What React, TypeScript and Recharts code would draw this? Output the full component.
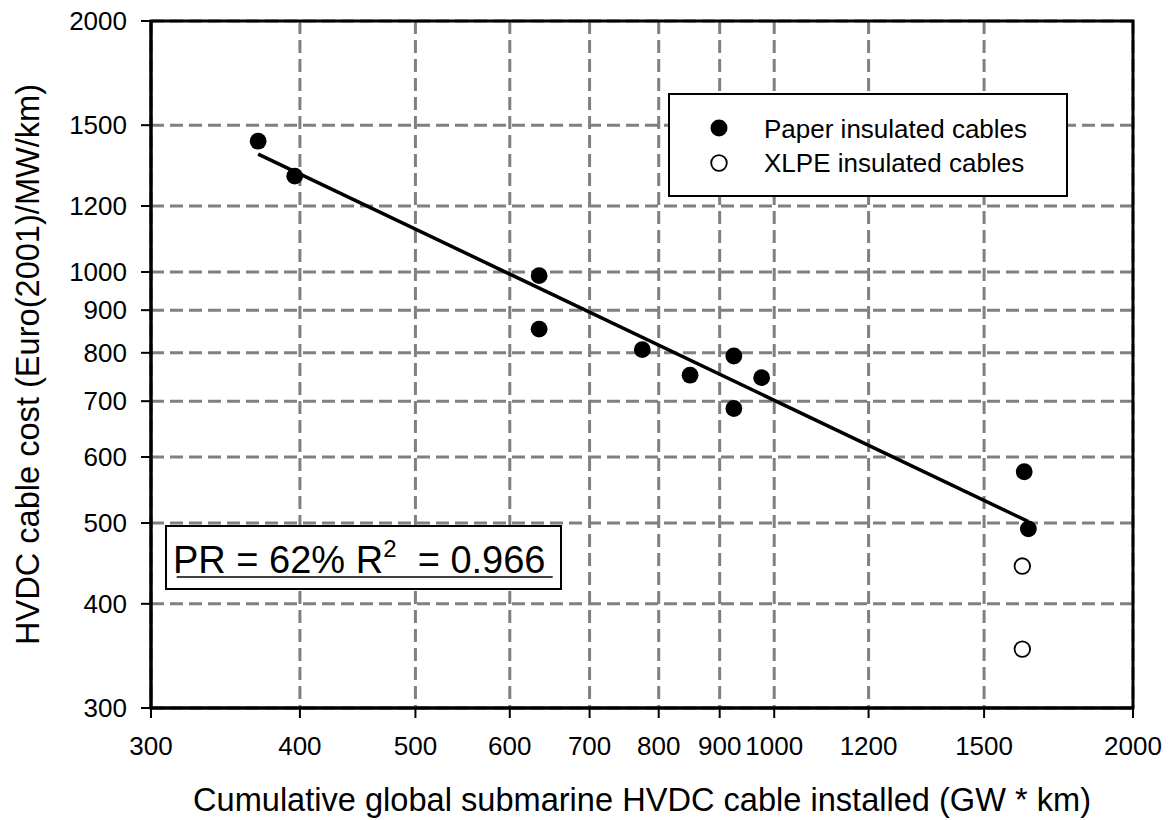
import React from 'react';
import { ScatterChart, Scatter, XAxis, YAxis, CartesianGrid, ReferenceArea, Legend } from 'recharts';

const FONT = '"Liberation Sans", Arial, Helvetica, sans-serif';

const xTicks = [300, 400, 500, 600, 700, 800, 900, 1000, 1200, 1500, 2000];
const yTicks = [300, 400, 500, 600, 700, 800, 900, 1000, 1200, 1500, 2000];

// paper insulated cables
const paperX = [369, 396, 635, 635, 775, 850, 925, 925, 976, 1621, 1634];
const paperY = [1435, 1303, 990, 854, 807, 752, 793, 686, 747, 576, 492];

// XLPE insulated cables
const xlpeX = [1615, 1615];
const xlpeY = [444, 353];

// fitted experience curve, end points
const trendX = [369, 1634];
const trendY = [1385, 502];

const paper = paperX.map((x, i) => ({ x, y: paperY[i] }));
const xlpe = xlpeX.map((x, i) => ({ x, y: xlpeY[i] }));
const trend = trendX.map((x, i) => ({ x, y: trendY[i] }));

const FilledDot = (p: any) => <circle cx={p.cx} cy={p.cy} r={8.4} fill="#000" />;
const OpenDot = (p: any) => (
  <circle cx={p.cx} cy={p.cy} r={7.8} fill="#fff" stroke="#000" strokeWidth={1.8} />
);
const NoDot = () => <g />;

const LegendBox = () => (
  <svg width={400} height={104} style={{ display: 'block' }}>
    <rect x={1} y={1} width={398} height={102} fill="#fff" stroke="#000" strokeWidth={2} />
    <circle cx={51} cy={35} r={8.5} fill="#000" />
    <text x={96} y={45} fontSize={26} fontFamily={FONT} fill="#000">
      Paper insulated cables
    </text>
    <circle cx={51} cy={70} r={7.8} fill="#fff" stroke="#000" strokeWidth={1.8} />
    <text x={96} y={79} fontSize={26} fontFamily={FONT} fill="#000">
      XLPE insulated cables
    </text>
  </svg>
);

const tickStyle = { fontSize: 26, fill: '#000', fontFamily: FONT };

export default function App() {
  return (
    <div style={{ position: 'absolute', left: 0, top: 0, width: 1170, height: 820, background: '#fff' }}>
      <ScatterChart width={1170} height={820} margin={{ top: 21, right: 37, left: 0, bottom: 0 }}>
        <CartesianGrid stroke="#808080" strokeWidth={3} strokeDasharray="13 6" />
        <XAxis
          type="number"
          dataKey="x"
          scale="log"
          domain={[300, 2000]}
          ticks={xTicks}
          interval={0}
          allowDataOverflow
          height={112}
          tickSize={10}
          tickMargin={19}
          tick={tickStyle}
          axisLine={{ stroke: '#000', strokeWidth: 3 }}
          tickLine={{ stroke: '#000', strokeWidth: 2 }}
          label={{
            content: () => (
              <text x={642} y={811} textAnchor="middle" fontSize={32.6} fontFamily={FONT} fill="#000">
                Cumulative global submarine HVDC cable installed (GW * km)
              </text>
            ),
          }}
        />
        <YAxis
          type="number"
          dataKey="y"
          scale="log"
          domain={[300, 2000]}
          ticks={yTicks}
          interval={0}
          allowDataOverflow
          width={151}
          tickSize={10}
          tickMargin={14}
          tick={tickStyle}
          axisLine={{ stroke: '#000', strokeWidth: 3 }}
          tickLine={{ stroke: '#000', strokeWidth: 2 }}
          label={{
            content: () => (
              <text
                x={38.5}
                y={364.5}
                transform="rotate(-90, 38.5, 364.5)"
                textAnchor="middle"
                fontSize={32.6}
                fontFamily={FONT}
                fill="#000"
              >
                HVDC cable cost (Euro(2001)/MW/km)
              </text>
            ),
          }}
        />
        <ReferenceArea x1={300} x2={2000} y1={300} y2={2000} fill="none" stroke="#000" strokeWidth={3} />
        <Scatter
          name="trend"
          data={trend}
          line={{ stroke: '#000', strokeWidth: 3.5 }}
          shape={NoDot}
          legendType="none"
          isAnimationActive={false}
        />
        <Scatter name="Paper insulated cables" data={paper} shape={FilledDot} isAnimationActive={false} />
        <Scatter name="XLPE insulated cables" data={xlpe} shape={OpenDot} isAnimationActive={false} />
        <Legend
          layout="vertical"
          align="center"
          verticalAlign="middle"
          content={() => <LegendBox />}
          wrapperStyle={{ left: 668, top: 93, width: 400, height: 104 }}
        />
      </ScatterChart>
      <svg
        width={398}
        height={66}
        style={{ position: 'absolute', left: 165, top: 525 }}
      >
        <rect x={1} y={1} width={395} height={63} fill="#fff" stroke="#000" strokeWidth={2} />
        <text x={8} y={47.7} fontSize={38} fontFamily={FONT} fill="#000" style={{ whiteSpace: 'pre' }}>
          PR = 62% R
          <tspan fontSize={24} dy={-16}>2</tspan>
          <tspan dy={16}>{'  = 0.966'}</tspan>
        </text>
        <line x1={11.7} x2={387.7} y1={52} y2={52} stroke="#000" strokeWidth={1.5} />
      </svg>
    </div>
  );
}
